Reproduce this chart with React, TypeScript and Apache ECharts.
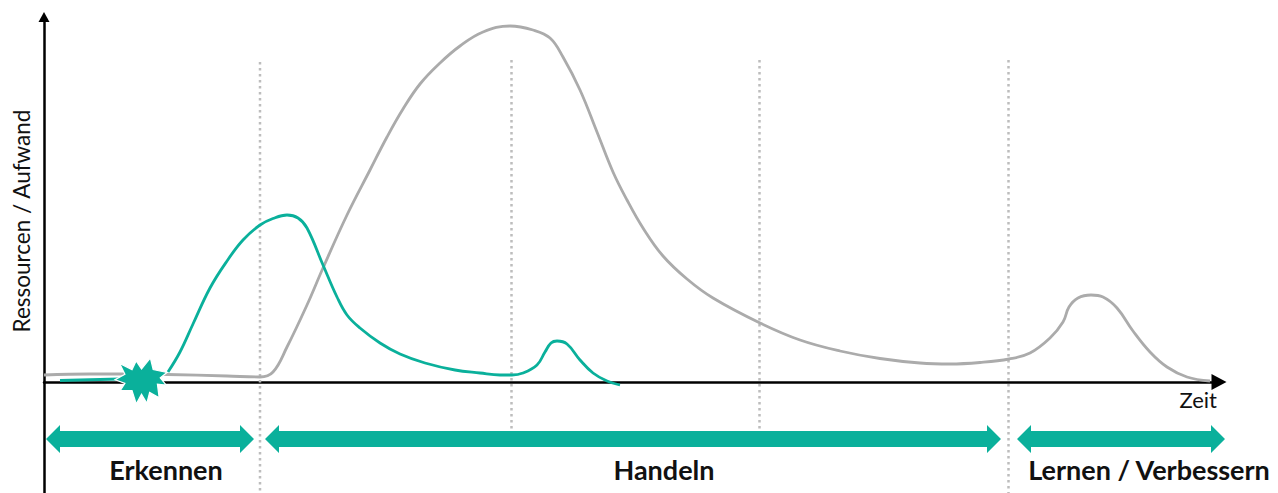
import React, { useEffect, useRef } from "react";
import * as echarts from "echarts";

// Horizontal scale: time units, vertical scale: effort units above the time axis.
const overallTime = [0, 46, 86, 123, 183, 216, 229, 243, 263, 279, 303, 326, 343, 359, 376, 396, 416, 439, 466, 489, 506, 519, 536, 553, 569, 583, 599, 619, 643, 669, 716, 756, 796, 836, 876, 906, 936, 965, 986, 1006, 1019, 1025, 1034, 1047, 1059, 1073, 1089, 1106, 1123, 1143, 1166];
const overallEffort = [7, 8, 8, 7.5, 6, 5, 10, 35, 77, 114, 167, 212, 245, 273, 298, 319, 336, 350, 356, 352, 344, 325, 292, 250, 210, 182, 154, 126, 103, 84, 59, 42, 31, 23.5, 19, 18, 19.5, 23, 29, 44, 60, 75, 84, 87, 85, 74, 51, 30, 15, 5, 1];

const responseTimeBefore = [16, 76];
const responseEffortBefore = [1.5, 3];
const responseTime = [124, 136, 149, 166, 183, 199, 216, 229, 243, 254, 263, 279, 293, 303, 316, 336, 356, 381, 411, 436, 456, 468, 479, 493, 501, 507, 513, 523, 536, 549, 563, 576];
const responseEffort = [10, 30, 58, 94, 121, 142, 157, 163.5, 167, 164, 154, 117, 85, 67, 54, 39, 28, 19, 12, 9, 7, 7, 9, 17, 30, 39, 41, 38, 22, 9, 1, -3];

const phaseBoundaryTime = [216, 467.5, 715.5, 964.5];
const phaseBoundaryTop = [320, 322, 322, 322];
const phaseBoundaryBottom = [-111, -48, -48, -111];

const phaseNames = ["Erkennen", "Handeln", "Lernen / Verbessern"];
const phaseStart = [2, 221, 973];
const phaseEnd = [210, 957, 1181];
const phaseLabelTime = [122, 620, 1105];
const phaseArrowLevel = [-57, -57, -57];
const phaseLabelLevel = [-87.5, -87.5, -87.5];

const incidentPoint = [97, 1];

const yAxisTitle = "Ressourcen / Aufwand";
const xAxisTitle = "Zeit";

const TEAL = "#0AB09B";
const GREY = "#ABABAB";
const BURST =
  "path://M363 75L398 92L410 68L425 90L450 60L458 92L497 100L478 115L495 135L470 132L475 170L448 155L440 185L425 160L410 187L398 150L365 150L378 130L350 120L378 105Z";

const zip = (a: number[], b: number[]) => a.map((v, i) => [v, b[i]]);

export default function App() {
  const ref = useRef<HTMLDivElement>(null);

  useEffect(() => {
    document.body.style.margin = "0";
    const chart = echarts.init(ref.current!, null, { renderer: "svg" });

    const boundaryData: (number[] | null[])[] = [];
    phaseBoundaryTime.forEach((t, i) => {
      boundaryData.push([t, phaseBoundaryTop[i]], [t, phaseBoundaryBottom[i]], [null, null]);
    });

    chart.setOption({
      animation: false,
      textStyle: { fontFamily: "Lato" },
      grid: { left: 44, right: 59, top: 17, bottom: 0, outerBoundsMode: "none" },
      xAxis: {
        type: "value",
        min: 0,
        max: 1175,
        name: xAxisTitle,
        nameLocation: "end",
        nameGap: -2,
        nameTextStyle: { fontFamily: "Lato", fontSize: 22, color: "#111", align: "right", verticalAlign: "top", padding: [6, 0, 0, 0] },
        axisLine: { onZero: true, lineStyle: { color: "#000", width: 2.5 }, symbol: ["none", "triangle"], symbolSize: [16, 15] },
        axisTick: { show: false },
        axisLabel: { show: false },
        splitLine: { show: false },
      },
      yAxis: {
        type: "value",
        min: -111,
        max: 365,
        name: yAxisTitle,
        nameLocation: "middle",
        nameGap: 11,
        nameRotate: 90,
        nameTextStyle: { fontFamily: "Lato", fontSize: 22.5, color: "#111", padding: [0, 0, 0, 68] },
        axisLine: { onZero: true, lineStyle: { color: "#000", width: 2.5 }, symbol: ["none", "triangle"], symbolSize: [11, 10] },
        axisTick: { show: false },
        axisLabel: { show: false },
        splitLine: { show: false },
      },
      series: [
        {
          type: "line",
          name: "Phasengrenzen",
          data: boundaryData,
          showSymbol: false,
          z: 1,
          silent: true,
          lineStyle: { color: "#BDBDBD", width: 2.5, type: [2.5, 3.5] },
        },
        {
          type: "line",
          name: "Gesamtaufwand",
          data: zip(overallTime, overallEffort),
          smooth: 0.4,
          showSymbol: false,
          z: 3,
          lineStyle: { color: GREY, width: 2.8 },
        },
        {
          type: "line",
          name: "Reaktion vor Vorfall",
          data: zip(responseTimeBefore, responseEffortBefore),
          showSymbol: false,
          z: 4,
          lineStyle: { color: TEAL, width: 2.8 },
        },
        {
          type: "line",
          name: "Reaktion",
          data: zip(responseTime, responseEffort),
          smooth: 0.4,
          showSymbol: false,
          z: 4,
          clip: false,
          lineStyle: { color: TEAL, width: 2.8 },
        },
        {
          type: "scatter",
          name: "Vorfall",
          data: [incidentPoint],
          symbol: BURST,
          symbolSize: [52, 46],
          z: 6,
          itemStyle: { color: TEAL, borderColor: "#fff", borderWidth: 1.2, opacity: 1 },
        },
        {
          type: "custom",
          name: "Phasen",
          z: 5,
          clip: false,
          data: phaseNames.map((n, i) => [phaseStart[i], phaseEnd[i], phaseArrowLevel[i], phaseLabelTime[i], phaseLabelLevel[i], n]),
          encode: { x: [0, 1], y: 2 },
          renderItem: (_p: any, api: any) => {
            const a = api.coord([api.value(0), api.value(2)]);
            const b = api.coord([api.value(1), api.value(2)]);
            const l = api.coord([api.value(3), api.value(4)]);
            const head = 14;
            const hh = 14;
            const sh = 8;
            const y = a[1];
            return {
              type: "group",
              children: [
                {
                  type: "polygon",
                  shape: {
                    points: [
                      [a[0], y],
                      [a[0] + head, y - hh],
                      [a[0] + head, y - sh],
                      [b[0] - head, y - sh],
                      [b[0] - head, y - hh],
                      [b[0], y],
                      [b[0] - head, y + hh],
                      [b[0] - head, y + sh],
                      [a[0] + head, y + sh],
                      [a[0] + head, y + hh],
                    ],
                  },
                  style: { fill: TEAL },
                },
                {
                  type: "text",
                  x: l[0],
                  y: l[1],
                  style: {
                    text: api.value(5),
                    fontFamily: "Lato",
                    fontWeight: "bold",
                    fontSize: 27,
                    fill: "#111",
                    align: "center",
                    verticalAlign: "middle",
                  },
                },
              ],
            };
          },
        },
      ],
    });
    return () => chart.dispose();
  }, []);

  return <div ref={ref} style={{ width: 1278, height: 493 }} />;
}
